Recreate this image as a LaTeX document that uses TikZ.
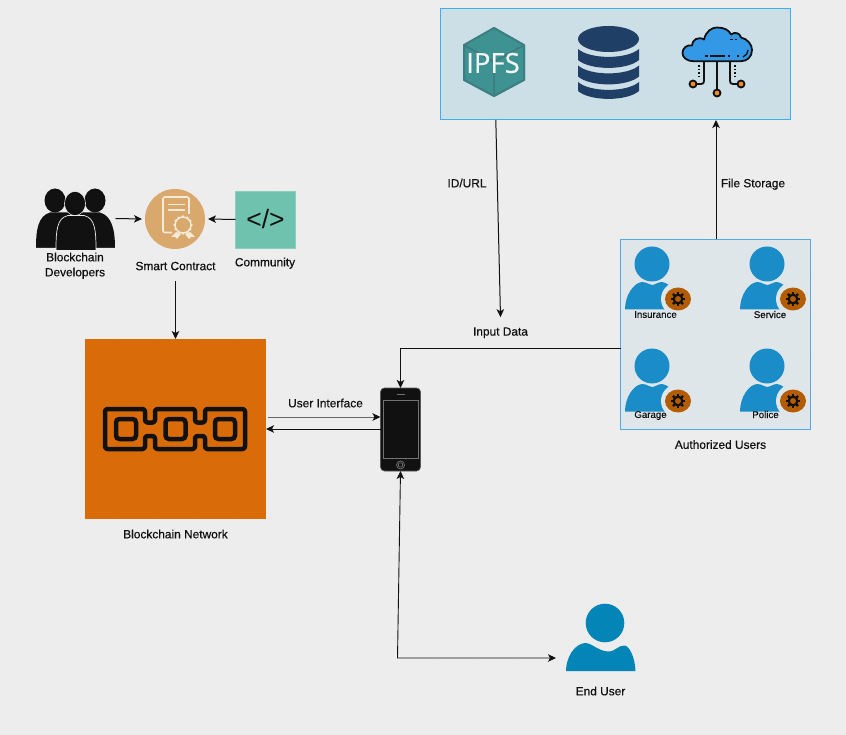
\documentclass[tikz,border=0pt]{standalone}
\usepackage{fontspec}
\setmainfont{Liberation Sans}
\newfontfamily\ipfsfont[FakeBold=0.6]{Open Sans}
\newfontfamily\lblf[FakeBold=0.5]{Liberation Sans}
\newfontfamily\codef{Liberation Sans}
\usetikzlibrary{arrows.meta}
\definecolor{bgc}{HTML}{EDEDED}
\definecolor{gridc}{HTML}{EBEBEB}
\definecolor{topfill}{HTML}{CDDFE6}
\definecolor{topline}{HTML}{3FADF0}
\definecolor{authfill}{HTML}{DFE6EA}
\definecolor{authline}{HTML}{4FAAE6}
\definecolor{userblue}{HTML}{1A8CC8}
\definecolor{endblue}{HTML}{0485B8}
\definecolor{badge}{HTML}{B35C00}
\definecolor{dbblue}{HTML}{203F66}
\definecolor{teal}{HTML}{3F9292}
\definecolor{tealdark}{HTML}{3B7F81}
\definecolor{orangebc}{HTML}{D96C09}
\definecolor{tan}{HTML}{D9A86C}
\definecolor{mint}{HTML}{6FC2AD}
\definecolor{ink}{HTML}{111111}
\definecolor{cream}{HTML}{F5E9D8}
\definecolor{cloudblue}{HTML}{3399E6}
\definecolor{dotorange}{HTML}{F58A2A}
\tikzset{
  x=1pt,y=-1pt,
  box/.style={draw=none,inner sep=0pt,outer sep=0pt,minimum width=#1},
  lbl/.style={font=\lblf\fontsize{11.9}{15}\selectfont,text=ink,inner sep=0pt,align=center,text depth=0pt},
  small/.style={font=\lblf\fontsize{9.7}{11}\selectfont,text=ink,inner sep=0pt,text depth=0pt},
  conn/.style={draw=ink,line width=1pt,-{Stealth[length=8pt,width=7.5pt,inset=2pt]}},
  authuser/.pic={
    \fill[userblue] (0,0) circle (17.5);
    \fill[userblue] (-27,45.5) .. controls (-27,32) and (-19,19) .. (-10,18)
      .. controls (-5,18) and (-3,21) .. (0,21) .. controls (3,21) and (6,18) .. (10,18)
      .. controls (19,19) and (27,32) .. (27,45.5) -- cycle;
    \fill[authfill] (26,35) circle (17);
    \fill[authfill] (14,45.5) rectangle (30,48);
    \fill[badge] (26,35) ellipse (13 and 11.5);
    \foreach \a in {0,45,...,315}
      \draw[ink,line width=2.2pt] (26,35) ++(\a:3.5) -- ++(\a:3.6);
    \draw[ink,line width=2.2pt] (26,35) circle (4.3);
  }
}
\begin{document}
\begin{tikzpicture}
\useasboundingbox (0,0) rectangle (846,735);
\fill[bgc] (0,0) rectangle (846,735);
\foreach \k in {0,...,20}
  \draw[gridc,line width=.7pt] (37.5+40*\k,0) -- (37.5+40*\k,735);
\foreach \k in {0,...,17}
  \draw[gridc,line width=.7pt] (0,37.5+40*\k) -- (846,37.5+40*\k);

% storage box
\node[draw=topline,fill=topfill,line width=1pt,minimum width=349.5pt,minimum height=111pt,inner sep=0pt,outer sep=0pt] (top) at (615.3,64.5) {};
% IPFS hexagon
\fill[teal] (494,27) -- (525,45) -- (525,80) -- (494,97) -- (463,80) -- (463,45) -- cycle;
\draw[tealdark,line width=2pt,line join=round] (494,28) -- (524,45) -- (524,80) -- (494,96) -- (464,80) -- (464,45) -- cycle;
\draw[tealdark,line width=2pt] (464,45) -- (494,62) -- (524,45) (494,62) -- (494,96);
\node[text=white!92!teal,font=\ipfsfont\fontsize{27.5}{30}\selectfont,inner sep=0pt] (ipfs) at (493,63) {IPFS};
% database
\fill[dbblue] (608.5,39) ellipse (30.5 and 13);
\foreach \y in {49,65.5}{
  \fill[dbblue] (578,\y) .. controls (590,\y+10.5) and (627,\y+10.5) .. (639,\y) -- (639,\y+11)
     .. controls (627,\y+21.5) and (590,\y+21.5) .. (578,\y+11) -- cycle;
}
\fill[dbblue] (578,82) .. controls (590,92.5) and (627,92.5) .. (639,82) -- (639,91)
     .. controls (627,101.5) and (590,101.5) .. (578,91) -- cycle;
% cloud
\draw[ink,line width=1.8pt] (717,62) -- (717,89);
\draw[ink,line width=1.8pt] (704,62) -- (704,81) .. controls (704,83) and (703,84) .. (701,84) -- (697,84);
\draw[ink,line width=1.8pt] (730,62) -- (730,81) .. controls (730,83) and (731,84) .. (733,84) -- (737,84);
\draw[ink,line width=1.8pt,dash pattern=on 1.8pt off 1.8pt] (699,65) -- (699,77);
\draw[ink,line width=1.8pt,dash pattern=on 1.8pt off 1.8pt] (735,65) -- (735,77);
\draw[ink,fill=dotorange,line width=1.8pt] (693,84) circle (3.5) (741,84) circle (3.5) (717,93) circle (3.5);
\draw[ink,fill=cloudblue,line width=1.8pt,line join=round]
  (694,61.2) .. controls (686,61.2) and (682.5,57) .. (682.5,53)
  .. controls (682.5,48) and (687,44.5) .. (692,45.5)
  .. controls (692,40) and (698,36) .. (704,39.5)
  .. controls (706,31) and (712,27.5) .. (717,27.5)
  .. controls (724,27.5) and (729,30) .. (731,34.5)
  .. controls (735,31.5) and (740,33) .. (741,37.5)
  .. controls (748,39) and (752,45) .. (752,50)
  .. controls (752,57) and (747,61.2) .. (741,61.2) -- cycle;
\draw[ink,line width=1.7pt] (705,56) -- (708,56) (710,56) -- (725,56) (728,56) -- (730,56) (737,56) -- (739,56);
\draw[ink,line width=1.7pt] (730,39.5) -- (732.5,39.5) (734.5,39.5) -- (737,39.5);
\draw[ink,line width=1.3pt] (743,57) .. controls (746,56) and (748,53) .. (748,50);

% developers
\fill[ink] (55,200.5) ellipse (10.5 and 12);
\fill[ink] (95,200.5) ellipse (10.5 and 12);
\fill[ink] (36,248) .. controls (36,230) and (38,216) .. (50,212.5) -- (100,212.5)
   .. controls (112,216) and (115,230) .. (115,248) -- cycle;
\fill[ink,draw=bgc,line width=.6pt] (75,203.5) ellipse (10.5 and 12);
\draw[bgc,fill=ink,line width=.7pt] (56,250) .. controls (56,230) and (57,218) .. (68,215.5) -- (84,215.5)
   .. controls (95,218) and (96,230) .. (96,250);
\fill[ink] (75,203.5) ellipse (9.8 and 11.5);
\fill[bgc] (36,248) rectangle (56,250) (96,248) rectangle (115,250);
\node[box=80pt,minimum height=60pt] (devs) at (75.5,218.5) {};
\node[lbl] (devslbl) at (75,264.5) {Blockchain\\Developers};

% smart contract
\node[circle,fill=tan,minimum size=60pt,inner sep=0pt,outer sep=0pt] (sc) at (175,219) {};
\draw[cream,line width=1.6pt,rounded corners=2pt] (172,232.5) -- (163,232.5) -- (163,197) -- (189,197) -- (189,214);
\draw[cream,line width=1.6pt] (167.5,204.5) -- (184.5,204.5) (167.5,210) -- (184.5,210);
\fill[tan] (183,225) circle (11);
\draw[cream,line width=1.5pt] (183,225) circle (8);
\foreach \a in {0,30,...,330}
  \fill[cream] (183,225) ++(\a:8.6) circle (1.2);
\fill[cream] (176,232) -- (171,237) -- (175,237) -- (177,239) -- (181,234) -- cycle;
\fill[cream] (190,232) -- (195,237) -- (191,237) -- (189,239) -- (185,234) -- cycle;
\node[lbl] (sclbl) at (175.5,266) {Smart Contract};

% community
\node[fill=mint,draw=mint!80!white,line width=.6pt,minimum width=60pt,minimum height=57pt,inner sep=0pt,outer sep=0pt,text=ink,font=\codef\fontsize{26.5}{28}\selectfont] (comm) at (265.5,219.5) {</>};
\node[lbl] (commlbl) at (265,262) {Community};

% blockchain
\node[fill=orangebc,minimum width=181pt,minimum height=180pt,inner sep=0pt,outer sep=0pt] (bc) at (175.5,429) {};
\draw[ink,line width=4.5pt,line join=round,rounded corners=2.5pt]
  (105,409) -- (145,409) -- (145,422.5) -- (155,422.5) -- (155,409) -- (195,409) -- (195,422.5) -- (205,422.5) -- (205,409) -- (245,409)
  -- (245,449) -- (205,449) -- (205,436) -- (195,436) -- (195,449) -- (155,449) -- (155,436) -- (145,436) -- (145,449) -- (105,449) -- cycle;
\foreach \x in {126,175.5,225}
  \draw[ink,line width=4.5pt,rounded corners=3.5pt] (\x-10,419) rectangle (\x+10,439);
\node[lbl] (bclbl) at (175.5,534) {Blockchain Network};

% phone
\node[fill=ink,draw=black!65,line width=.7pt,rounded corners=4pt,minimum width=40pt,minimum height=83pt,inner sep=0pt,outer sep=0pt] (phone) at (400.5,429.5) {};
\draw[black!55,line width=.6pt] (383,400) rectangle (418,458);
\draw[black!55,line width=1.5pt] (396.5,394.5) -- (404.5,394.5);
\draw[black!55,line width=.7pt] (400.5,465) circle (4);
\draw[black!55,line width=.6pt,rounded corners=.8pt] (398.5,463) rectangle (402.5,467);

% authorized users
\node[draw=authline,fill=authfill,line width=1pt,minimum width=190pt,minimum height=190pt,inner sep=0pt,outer sep=0pt] (auth) at (715.5,334.5) {};
\pic (u1) at (652,264) {authuser};
\pic (u2) at (767,264) {authuser};
\pic (u3) at (652,366) {authuser};
\pic (u4) at (767,366) {authuser};
\node[small] (n1) at (655.5,314.5) {Insurance};
\node[small] (n2) at (770,314.5) {Service};
\node[small] (n3) at (650.5,414.5) {Garage};
\node[small] (n4) at (765.5,414.5) {Police};
\node[lbl] (authlbl) at (720.5,444.5) {Authorized Users};

% end user
\fill[endblue] (605,623) circle (19.3);
\fill[endblue] (566,671) .. controls (566,658) and (574,644) .. (585,643)
  .. controls (592,643) and (598,651) .. (608,651.5) .. controls (616,651.5) and (618,645) .. (625,645.5)
  .. controls (630,647) and (635,658) .. (635.5,671) -- cycle;
\node[box=70pt,minimum height=70pt] (end) at (600,637) {};
\node[lbl] (endlbl) at (600.5,691) {End User};

% connector labels
\node[lbl] (idurl) at (467,183) {ID/URL};
\node[lbl] (filest) at (753,183) {File Storage};
\node[lbl] (input) at (500.5,331.5) {Input Data};
\node[lbl] (ui) at (325.5,403) {User Interface};

% connectors (yshift is positive upwards)
\draw[conn] (devs.east) -- ([xshift=-3pt]sc.west);
\draw[conn] (comm.west) -- ([xshift=3pt]sc.east);
\draw[conn] ([yshift=-11pt]sclbl.south) -- (bc.north);
\draw[conn] ([xshift=-119.5pt]top.south) -- ([yshift=10pt]input.north);
\draw[conn] ([xshift=.5pt]auth.north) -- ([xshift=.5pt]top.south -| auth.north);
\draw[conn] ([yshift=-13.5pt]auth.west) -- ([yshift=-13.5pt]auth.west -| phone.north) -- (phone.north);
\draw[conn,draw=black!60,-{Stealth[length=8pt,width=7.5pt,inset=2pt,color=ink]}] ([xshift=2pt,yshift=12pt]bc.east) -- ([yshift=12.5pt]phone.west);
\draw[conn] ([yshift=.5pt]phone.west) -- ([yshift=0pt]bc.east);
\coordinate (enduserin) at ([xshift=-9pt,yshift=-21pt]end.west);
\draw[conn,{Stealth[length=8pt,width=7.5pt,inset=2pt]}-{Stealth[length=8pt,width=7.5pt,inset=2pt]},line width=.9pt] (phone.south) -- (397.5,658) -- (enduserin);
\end{tikzpicture}
\end{document}
